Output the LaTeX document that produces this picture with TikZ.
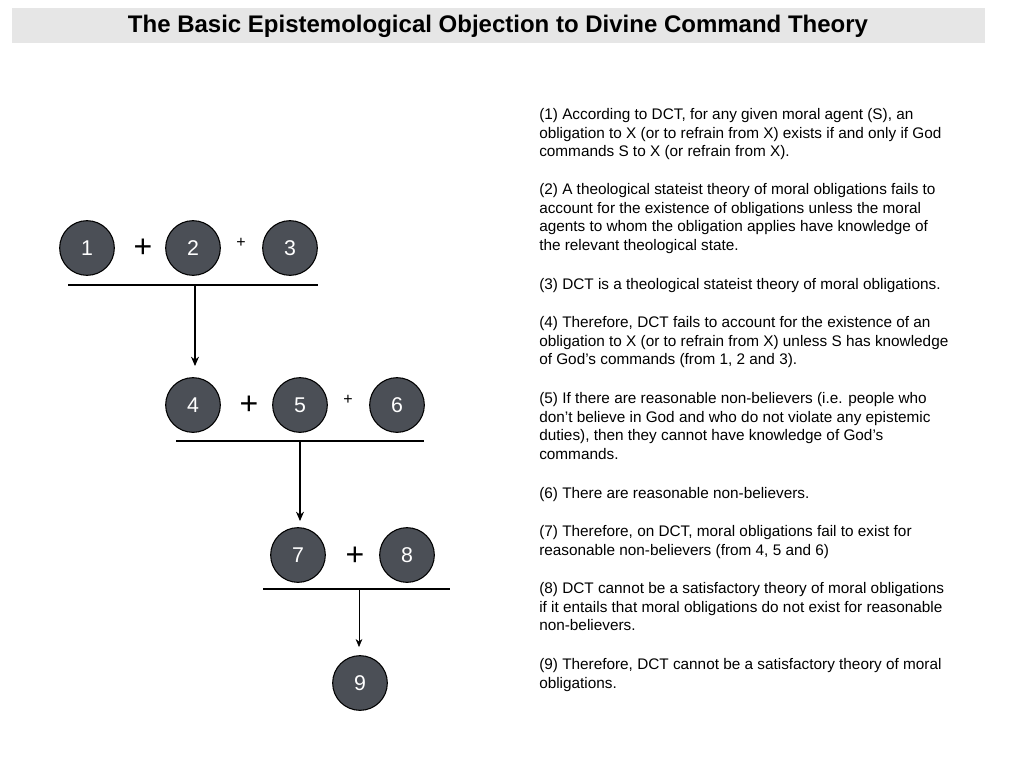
\documentclass[tikz,border=0pt]{standalone}
\usepackage{fontspec}
\setmainfont{Liberation Sans}
\usetikzlibrary{arrows.meta}
\definecolor{stepgrey}{HTML}{4B4F56}
\definecolor{titlegrey}{HTML}{E6E6E6}
\begin{document}
\begin{tikzpicture}[x=0.75pt,y=-0.75pt]
	\tikzset{premise/.style = {shape=circle,draw=black,thick,fill=stepgrey,text=white,minimum size=41pt,inner sep=0pt,font=\fontsize{16}{16}\selectfont}}
	\tikzset{plus/.style = {font=\fontsize{24}{24}\selectfont}}
	\tikzset{smallplus/.style = {font=\fontsize{12}{12}\selectfont}}
	\tikzset{claim/.style = {anchor=north west,inner sep=0pt,align=left,font=\fontsize{11.5}{14}\selectfont}}
	\tikzset{edge/.style = {-{Stealth[length=7pt,width=6pt]},thick}}
	\useasboundingbox (0,0) rectangle (1024,768);
	\fill[titlegrey] (12,8) rectangle (985,43);
	\node[font=\bfseries\fontsize{18}{18}\selectfont] (title) at (498,26) {The Basic Epistemological Objection to Divine Command Theory};
	% first row
	\node[premise] (p1) at (87,248) {1};
	\node[plus] (s1) at (143,248) {+};
	\node[premise] (p2) at (193,248) {2};
	\node[smallplus] (s2) at (241,243) {+};
	\node[premise] (p3) at (290,248) {3};
	\coordinate (l1a) at (68,285);
	\coordinate (l1b) at (318,285);
	\draw[thick] (l1a) -- (l1b);
	\coordinate (a1) at (195,285);
	% second row
	\node[premise] (p4) at (193,405) {4};
	\node[plus] (s3) at (249,405) {+};
	\node[premise] (p5) at (300,405) {5};
	\node[smallplus] (s4) at (348,400) {+};
	\node[premise] (p6) at (397,405) {6};
	\coordinate (l2a) at (176,441);
	\coordinate (l2b) at (424,441);
	\draw[thick] (l2a) -- (l2b);
	\coordinate (a2) at (300,441);
	\coordinate (t1) at (195,366);
	\draw[edge] (a1) -- (t1);
	% third row
	\node[premise] (p7) at (298,555) {7};
	\node[plus] (s5) at (355,556) {+};
	\node[premise] (p8) at (407,555) {8};
	\coordinate (l3a) at (263,589);
	\coordinate (l3b) at (450,589);
	\draw[thick] (l3a) -- (l3b);
	\coordinate (a3) at (359,589);
	\coordinate (t2) at (300,521);
	\draw[edge] (a2) -- (t2);
	% conclusion
	\node[premise] (p9) at (360,683) {9};
	\coordinate (t3) at (359,647);
	\draw[-{Stealth[length=6pt,width=5pt]}] (a3) -- (t3);
	% claims
	\node[claim] (c1) at (539,108) {(1) According to DCT, for any given moral agent (S), an\\obligation to X (or to refrain from X) exists if and only if God\\commands S to X (or refrain from X).};
	\node[claim] (c2) at (539,183) {(2) A theological stateist theory of moral obligations fails to\\account for the existence of obligations unless the moral\\agents to whom the obligation applies have knowledge of\\the relevant theological state.};
	\node[claim] (c3) at (539,278) {(3) DCT is a theological stateist theory of moral obligations.};
	\node[claim] (c4) at (539,316) {(4) Therefore, DCT fails to account for the existence of an\\obligation to X (or to refrain from X) unless S has knowledge\\of God’s commands (from 1, 2 and 3).};
	\node[claim] (c5) at (539,392) {(5) If there are reasonable non-believers (i.e. people who\\don’t believe in God and who do not violate any epistemic\\duties), then they cannot have knowledge of God’s\\commands.};
	\node[claim] (c6) at (539,487) {(6) There are reasonable non-believers.};
	\node[claim] (c7) at (539,525) {(7) Therefore, on DCT, moral obligations fail to exist for\\reasonable non-believers (from 4, 5 and 6)};
	\node[claim] (c8) at (539,582) {(8) DCT cannot be a satisfactory theory of moral obligations\\if it entails that moral obligations do not exist for reasonable\\non-believers.};
	\node[claim] (c9) at (539,658) {(9) Therefore, DCT cannot be a satisfactory theory of moral\\obligations.};
\end{tikzpicture}
\end{document}
